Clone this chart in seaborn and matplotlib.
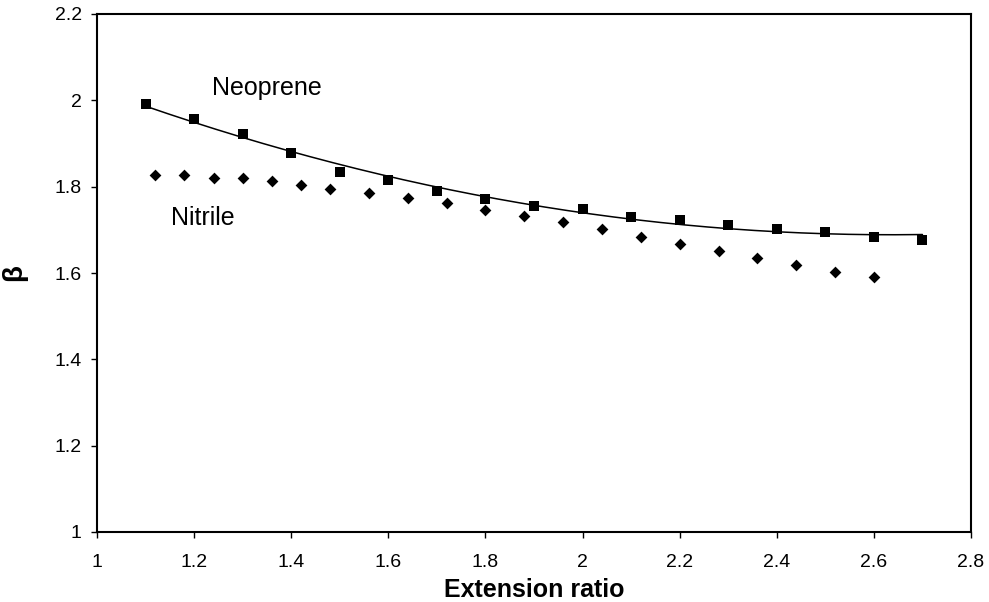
import numpy as np
import pandas as pd
import matplotlib
matplotlib.use("Agg")
import matplotlib.pyplot as plt
import seaborn as sns

# Measured beta against extension ratio for two rubbers
neoprene_x = [1.1, 1.2, 1.3, 1.4, 1.5, 1.6, 1.7, 1.8, 1.9, 2.0, 2.1, 2.2, 2.3, 2.4, 2.5, 2.6, 2.7]
neoprene_beta = [1.992, 1.956, 1.921, 1.879, 1.833, 1.816, 1.790, 1.772, 1.756, 1.748,
                 1.729, 1.722, 1.712, 1.702, 1.694, 1.684, 1.677]

nitrile_x = [1.12, 1.18, 1.24, 1.30, 1.36, 1.42, 1.48, 1.56, 1.64, 1.72, 1.80,
             1.88, 1.96, 2.04, 2.12, 2.20, 2.28, 2.36, 2.44, 2.52, 2.60]
nitrile_beta = [1.827, 1.827, 1.821, 1.819, 1.812, 1.804, 1.795, 1.785, 1.773, 1.762, 1.746,
                1.731, 1.717, 1.701, 1.684, 1.668, 1.651, 1.635, 1.618, 1.602, 1.590]

x_ticks = [1, 1.2, 1.4, 1.6, 1.8, 2, 2.2, 2.4, 2.6, 2.8]
y_ticks = [1, 1.2, 1.4, 1.6, 1.8, 2, 2.2]

sns.set_style("ticks")
plt.rcParams["font.family"] = ["Liberation Sans", "DejaVu Sans"]
plt.rcParams["text.color"] = "black"
plt.rcParams["axes.labelcolor"] = "black"
plt.rcParams["xtick.color"] = "black"
plt.rcParams["ytick.color"] = "black"

neo = pd.DataFrame({"x": neoprene_x, "beta": neoprene_beta})
nit = pd.DataFrame({"x": nitrile_x, "beta": nitrile_beta})

# Second-order polynomial trend line through the neoprene points
coef = np.polyfit(neo["x"], neo["beta"], 2)
xs = np.linspace(min(neoprene_x), max(neoprene_x), 200)
trend = pd.DataFrame({"x": xs, "beta": np.polyval(coef, xs)})

fig = plt.figure(figsize=(9.89, 6.02), dpi=100)
ax = fig.add_axes([97 / 989, 1 - 532 / 602, (971 - 97) / 989, (532 - 14) / 602])

sns.lineplot(data=trend, x="x", y="beta", ax=ax, color="black", linewidth=1.1)
sns.scatterplot(data=neo, x="x", y="beta", ax=ax, marker="s", s=55, color="black",
                edgecolor="black", linewidth=0, zorder=3)
sns.scatterplot(data=nit, x="x", y="beta", ax=ax, marker="D", s=36, color="black",
                edgecolor="black", linewidth=0, zorder=3)

ax.text(1.35, 2.029, "Neoprene", fontsize=18, ha="center", va="center", color="black")
ax.text(1.218, 1.728, "Nitrile", fontsize=18, ha="center", va="center", color="black")

ax.set_xlim(1, 2.8)
ax.set_ylim(1, 2.2)
ax.set_xticks(x_ticks)
ax.set_yticks(y_ticks)
ax.set_xticklabels([f"{v:g}" for v in x_ticks], fontsize=14)
ax.set_yticklabels([f"{v:g}" for v in y_ticks], fontsize=14)
ax.tick_params(direction="out", length=4, width=1, color="black", labelcolor="black")
ax.tick_params(axis="x", pad=12)
ax.tick_params(axis="y", pad=7)

ax.set_xlabel("Extension ratio", fontsize=18, fontweight="bold", labelpad=5, color="black")
ax.set_ylabel("β", fontsize=20, fontweight="bold", labelpad=20, rotation=90, color="black")

for side in ["left", "right", "top", "bottom"]:
    ax.spines[side].set_visible(True)
    ax.spines[side].set_color("black")
    ax.spines[side].set_linewidth(1.5)

fig.savefig("out.png", dpi=100, facecolor="white")
